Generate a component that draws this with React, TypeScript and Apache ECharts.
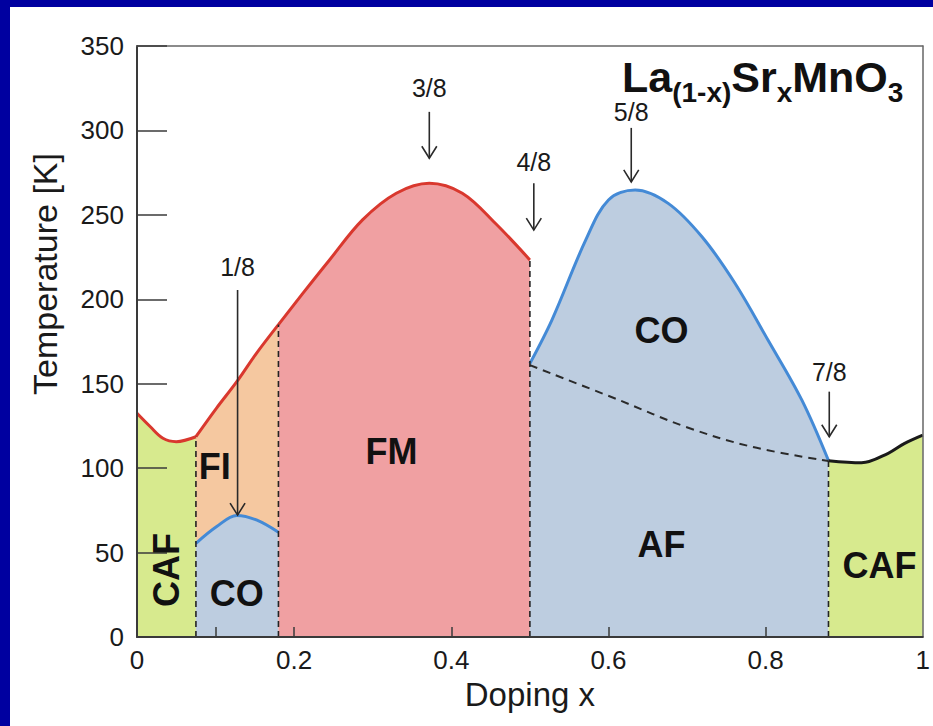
import React, { useEffect, useRef } from 'react';
import * as echarts from 'echarts';

// ---- data ----
const cafLeftX = [0, 0.017, 0.033, 0.05, 0.075];
const cafLeftT = [132.5, 124.5, 117.7, 115.7, 118.6];

const fiX = [0.075, 0.101, 0.127, 0.152, 0.18];
const fiT = [118.6, 135.4, 151.2, 168, 185];

const coSmallX = [0.075, 0.101, 0.127, 0.152, 0.18];
const coSmallT = [55.5, 65.3, 72, 69.3, 62];

const fmX = [0.18, 0.211, 0.245, 0.287, 0.33, 0.372, 0.414, 0.456, 0.5];
const fmT = [185, 203.5, 223.3, 247, 262.8, 268.7, 262.8, 245, 223.3];

const coBigX = [0.5, 0.528, 0.571, 0.6, 0.634, 0.676, 0.719, 0.761, 0.803, 0.846, 0.88];
const coBigT = [162, 187.7, 235, 258.8, 264.7, 256.8, 237, 209.5, 175.9, 140.4, 104.5];

const afX = [0.5, 0.613, 0.698, 0.782, 0.88];
const afT = [161, 140.4, 124.5, 112.7, 104.2];

const cafRightX = [0.88, 0.922, 0.956, 0.977, 1];
const cafRightT = [104.4, 103.2, 108.8, 114.7, 119.6];

const boundaryX = [0.075, 0.18, 0.5, 0.88];
const boundaryT = [118.6, 185, 223.3, 104.4];

const arrowLabels = ['1/8', '3/8', '4/8', '5/8', '7/8'];
const arrowX = [0.128, 0.372, 0.505, 0.629, 0.881];
const arrowTopT = [205.5, 311, 268.7, 301.5, 145.3];
const arrowTipT = [72.2, 283.5, 241, 269.5, 118.6];
const arrowLabelT = [219.3, 325, 281.5, 311, 157];

const regionNames = ['CAF', 'FI', 'CO', 'FM', 'CO', 'AF', 'CAF'];
const regionX = [0.038, 0.099, 0.127, 0.324, 0.6675, 0.6675, 0.945];
const regionT = [39.7, 100.7, 26, 109.6, 181.8, 54.5, 42.6];
const regionRotated = [true, false, false, false, false, false, false];

const xTickValues = [0.1, 0.2, 0.4, 0.6, 0.8];

const FONT = '"Liberation Sans", Arial, Helvetica, sans-serif';
const GREEN = '#d7ea8e';
const ORANGE = '#f5c8a0';
const PINK = '#f0a0a2';
const BLUEGRAY = '#bdcde0';
const RED = '#d9382e';
const BLUE = '#448ad6';

const pairs = (xs: number[], ys: number[]) => xs.map((x, i) => [x, ys[i]]);

function areaSeries(xs: number[], ys: number[], fill: string, stroke: string) {
  return {
    type: 'line',
    data: pairs(xs, ys),
    smooth: 0.35,
    symbol: 'none',
    silent: true,
    lineStyle: { color: stroke, width: 3 },
    areaStyle: { color: fill, opacity: 1 },
    z: 2,
  };
}

export default function App() {
  const ref = useRef<HTMLDivElement>(null);

  useEffect(() => {
    document.body.style.margin = '0';
    const chart = echarts.init(ref.current!, null, { renderer: 'svg' });

    const series: any[] = [
      areaSeries(cafLeftX, cafLeftT, GREEN, RED),
      areaSeries(fiX, fiT, ORANGE, RED),
      areaSeries(coSmallX, coSmallT, BLUEGRAY, BLUE),
      areaSeries(fmX, fmT, PINK, RED),
      areaSeries(coBigX, coBigT, BLUEGRAY, BLUE),
      areaSeries(cafRightX, cafRightT, GREEN, '#1a1a1a'),
      {
        type: 'line',
        data: pairs(afX, afT),
        smooth: 0.35,
        symbol: 'none',
        silent: true,
        lineStyle: { color: '#2a2a2a', width: 2, type: [8, 6] },
        z: 3,
      },
      ...boundaryX.map((bx, i) => ({
        type: 'line',
        data: [
          [bx, 0],
          [bx, boundaryT[i]],
        ],
        symbol: 'none',
        silent: true,
        lineStyle: { color: '#222', width: 1.6, type: [6, 4] },
        z: 3,
      })),
    ];

    chart.setOption({
      animation: false,
      textStyle: { fontFamily: FONT },
      grid: { left: 127, right: 8, top: 39, bottom: 89, containLabel: false },
      xAxis: [
        {
          type: 'value',
          min: 0,
          max: 1,
          interval: 0.2,
          z: 5,
          axisLine: { show: true, onZero: false, lineStyle: { color: '#3a3a3a', width: 2 } },
          axisTick: {
            show: true,
            inside: true,
            length: 10,
            customValues: xTickValues,
            lineStyle: { color: '#3a3a3a', width: 1.5 },
          },
          axisLabel: { fontSize: 26, color: '#1a1a1a', margin: 10, fontFamily: FONT },
          splitLine: { show: false },
          name: 'Doping x',
          nameLocation: 'middle',
          nameGap: 40,
          nameTextStyle: { fontSize: 33, color: '#1a1a1a', fontFamily: FONT },
        },
        {
          type: 'value',
          position: 'top',
          min: 0,
          max: 1,
          z: 5,
          axisLine: { show: true, onZero: false, lineStyle: { color: '#666', width: 1.5 } },
          axisTick: { show: false },
          axisLabel: { show: false },
          splitLine: { show: false },
        },
      ],
      yAxis: [
        {
          type: 'value',
          min: 0,
          max: 350,
          interval: 50,
          z: 5,
          axisLine: { show: true, onZero: false, lineStyle: { color: '#3a3a3a', width: 2 } },
          axisTick: { show: true, inside: true, length: 30, lineStyle: { color: '#3a3a3a', width: 1.5 } },
          axisLabel: { fontSize: 26, color: '#1a1a1a', margin: 13, fontFamily: FONT },
          splitLine: { show: false },
        },
        {
          type: 'value',
          position: 'right',
          min: 0,
          max: 350,
          z: 5,
          axisLine: { show: true, onZero: false, lineStyle: { color: '#666', width: 1.5 } },
          axisTick: { show: false },
          axisLabel: { show: false },
          splitLine: { show: false },
        },
      ],
      series,
    });

    const px = (x: number, y: number) =>
      chart.convertToPixel({ xAxisIndex: 0, yAxisIndex: 0 }, [x, y]) as number[];

    const graphics: any[] = [];

    arrowLabels.forEach((lab, i) => {
      const top = px(arrowX[i], arrowTopT[i]);
      const tip = px(arrowX[i], arrowTipT[i]);
      const lp = px(arrowX[i], arrowLabelT[i]);
      graphics.push({
        type: 'line',
        silent: true,
        z: 20,
        shape: { x1: top[0], y1: top[1], x2: tip[0], y2: tip[1] },
        style: { stroke: '#2a2a2a', lineWidth: 1.6 },
      });
      graphics.push({
        type: 'polyline',
        silent: true,
        z: 20,
        shape: { points: [[tip[0] - 7.5, tip[1] - 12], [tip[0], tip[1]], [tip[0] + 7.5, tip[1] - 12]] },
        style: { stroke: '#2a2a2a', lineWidth: 1.6, fill: null },
      });
      graphics.push({
        type: 'text',
        silent: true,
        z: 20,
        x: lp[0],
        y: lp[1],
        style: {
          text: lab,
          fontSize: 25,
          fontFamily: FONT,
          fill: '#1a1a1a',
          align: 'center',
          verticalAlign: 'middle',
        },
      });
    });

    regionNames.forEach((name, i) => {
      const p = px(regionX[i], regionT[i]);
      graphics.push({
        type: 'text',
        silent: true,
        z: 20,
        x: p[0],
        y: p[1],
        rotation: regionRotated[i] ? Math.PI / 2 : 0,
        style: {
          text: name,
          fontSize: 36,
          fontWeight: 'bold',
          fontFamily: FONT,
          fill: '#111',
          align: 'center',
          verticalAlign: 'middle',
        },
      });
    });

    // y axis title
    graphics.push({
      type: 'text',
      silent: true,
      z: 20,
      x: 35,
      y: 267,
      rotation: Math.PI / 2,
      style: {
        text: 'Temperature [K]',
        fontSize: 34,
        fontFamily: FONT,
        fill: '#1a1a1a',
        align: 'center',
        verticalAlign: 'middle',
      },
    });

    // formula title
    graphics.push({
      type: 'text',
      silent: true,
      z: 20,
      x: 612,
      y: 48,
      style: {
        text: '{b|La}{s|(1-x)}{b|Sr}{s|x}{b|MnO}{s|3}',
        align: 'left',
        verticalAlign: 'top',
        fill: '#111',
        rich: {
          b: {
            fontSize: 43,
            fontWeight: 'bold',
            fontFamily: FONT,
            lineHeight: 43,
            verticalAlign: 'top',
            fill: '#111',
          },
          s: {
            fontSize: 28,
            fontWeight: 'bold',
            fontFamily: FONT,
            lineHeight: 28,
            padding: [23, 0, 0, 0],
            verticalAlign: 'top',
            fill: '#111',
          },
        },
      },
    });

    chart.setOption({ graphic: graphics });

    return () => chart.dispose();
  }, []);

  return (
    <div style={{ position: 'fixed', left: 0, top: 0, width: 933, height: 726, background: '#0000a0' }}>
      <div
        ref={ref}
        style={{ position: 'absolute', left: 10, top: 7, width: 923, height: 719, background: '#ffffff' }}
      />
    </div>
  );
}
